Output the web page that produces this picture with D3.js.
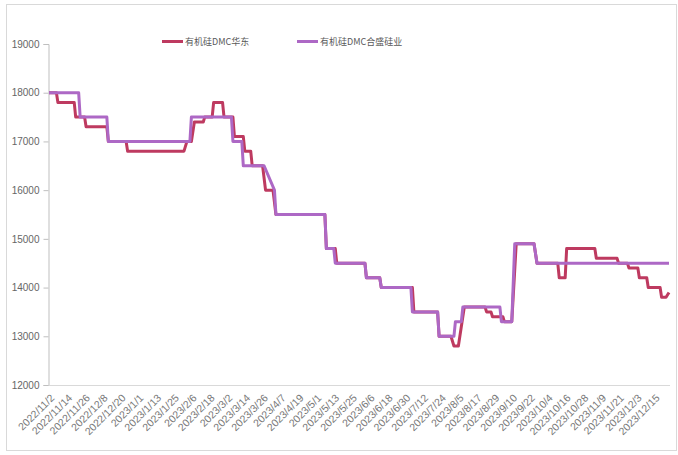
<!DOCTYPE html>
<html><head><meta charset="utf-8">
<script src="https://cdn.jsdelivr.net/npm/d3@7/dist/d3.min.js"></script>
<style>body{margin:0;background:#fff}svg{display:block}</style>
</head><body><svg id="c" width="678" height="455"></svg>
<script>
const seriesNames = ["有机硅DMC华东", "有机硅DMC合盛硅业"];
const yTicks = [12000, 13000, 14000, 15000, 16000, 17000, 18000, 19000];
const xTickLabels = ["2022/11/2","2022/11/14","2022/11/26","2022/12/8","2022/12/20","2023/1/1","2023/1/13","2023/1/25","2023/2/6","2023/2/18","2023/3/2","2023/3/14","2023/3/26","2023/4/7","2023/4/19","2023/5/1","2023/5/13","2023/5/25","2023/6/6","2023/6/18","2023/6/30","2023/7/12","2023/7/24","2023/8/5","2023/8/17","2023/8/29","2023/9/10","2023/9/22","2023/10/4","2023/10/16","2023/10/28","2023/11/9","2023/11/21","2023/12/3","2023/12/15"];
const dateRange = ["2022-11-02", "2023-12-25"];
// 有机硅DMC华东 (date, price)
const huadong = [
["2022-11-02",18000],["2022-11-07",18000],["2022-11-08",17800],["2022-11-19",17800],["2022-11-20",17500],
["2022-11-26",17500],["2022-11-27",17300],["2022-12-11",17300],["2022-12-12",17000],["2022-12-24",17000],
["2022-12-25",16800],["2023-02-01",16800],["2023-02-03",17000],["2023-02-06",17000],["2023-02-08",17400],
["2023-02-14",17400],["2023-02-15",17500],["2023-02-20",17500],["2023-02-21",17800],["2023-02-27",17800],
["2023-02-28",17500],["2023-03-06",17500],["2023-03-07",17100],["2023-03-13",17100],["2023-03-14",16800],
["2023-03-18",16800],["2023-03-19",16500],["2023-03-26",16500],["2023-03-28",16000],["2023-04-02",16000],
["2023-04-04",15500],["2023-05-07",15500],["2023-05-08",14800],["2023-05-14",14800],["2023-05-15",14500],
["2023-06-03",14500],["2023-06-04",14200],["2023-06-13",14200],["2023-06-14",14000],["2023-07-05",14000],
["2023-07-06",13500],["2023-07-22",13500],["2023-07-23",13000],["2023-07-31",13000],["2023-08-02",12800],
["2023-08-05",12800],["2023-08-09",13600],["2023-08-23",13600],["2023-08-24",13500],["2023-08-27",13500],
["2023-08-28",13400],["2023-09-04",13400],["2023-09-05",13300],["2023-09-10",13300],["2023-09-13",14900],
["2023-09-25",14900],["2023-09-27",14500],["2023-10-11",14500],["2023-10-12",14200],["2023-10-16",14200],
["2023-10-17",14800],["2023-11-05",14800],["2023-11-06",14600],["2023-11-20",14600],["2023-11-21",14500],
["2023-11-27",14500],["2023-11-28",14400],["2023-12-04",14400],["2023-12-05",14200],["2023-12-10",14200],
["2023-12-11",14000],["2023-12-19",14000],["2023-12-20",13800],["2023-12-23",13800],["2023-12-25",13900]
];
// 有机硅DMC合盛硅业 (date, price)
const hesheng = [
["2022-11-02",18000],["2022-11-22",18000],["2022-11-23",17500],["2022-12-11",17500],["2022-12-12",17000],
["2023-02-05",17000],["2023-02-06",17500],["2023-03-05",17500],["2023-03-06",17000],["2023-03-12",17000],
["2023-03-13",16500],["2023-03-27",16500],["2023-04-03",16000],["2023-04-04",15500],["2023-05-07",15500],
["2023-05-08",14800],["2023-05-13",14800],["2023-05-14",14500],["2023-06-03",14500],["2023-06-04",14200],
["2023-06-13",14200],["2023-06-14",14000],["2023-07-04",14000],["2023-07-05",13500],["2023-07-22",13500],
["2023-07-23",13000],["2023-08-02",13000],["2023-08-03",13300],["2023-08-07",13300],["2023-08-08",13600],
["2023-09-02",13600],["2023-09-03",13300],["2023-09-10",13300],["2023-09-12",14900],["2023-09-25",14900],
["2023-09-27",14500],["2023-12-25",14500]
];
const colors = ["#BE3A60", "#AD68C5"];

const parse = d3.timeParse("%Y-%m-%d");
const parseTick = d3.timeParse("%Y/%m/%d");
const svg = d3.select("#c");
const font = "'Liberation Sans', Arial, sans-serif";

svg.append("rect").attr("x",6.5).attr("y",4.5).attr("width",670).attr("height",446)
  .attr("fill","none").attr("stroke","#d9d9d9");

const x = d3.scaleTime().domain(dateRange.map(parse)).range([49, 669]);
const y = d3.scaleLinear().domain([12000, 19000]).range([385, 44]);

// y axis
const yAxis = svg.append("g").attr("transform","translate(48.5,0)")
  .call(d3.axisLeft(y).tickValues(yTicks).tickSize(5).tickPadding(4).tickFormat(d3.format("d")));
yAxis.select(".domain").attr("stroke","#bfbfbf");
yAxis.selectAll(".tick line").attr("stroke","#bfbfbf");
yAxis.selectAll("text").attr("fill","#666").style("font-family",font).style("font-size","10px");

// x axis
const xAxis = svg.append("g").attr("transform","translate(0,385.5)")
  .call(d3.axisBottom(x).tickValues(xTickLabels.map(parseTick)).tickSize(0).tickFormat((d,i)=>xTickLabels[i]));
xAxis.select(".domain").attr("stroke","#d9d9d9").attr("d","M48.5,0H670");
xAxis.selectAll(".tick text")
  .attr("fill","#777").style("font-family",font).style("font-size","10.5px")
  .attr("text-anchor","end").attr("dy","0.35em")
  .attr("transform","translate(3,10.5) rotate(-45)").attr("y",0).attr("x",0);

// lines
const line = d3.line().x(d=>x(parse(d[0]))).y(d=>y(d[1]));
[huadong, hesheng].forEach((s,i)=>{
  svg.append("path").datum(s).attr("d",line).attr("fill","none")
    .attr("stroke",colors[i]).attr("stroke-width",3).attr("stroke-linejoin","round");
});

// legend
const legX = [162, 297];
seriesNames.forEach((n,i)=>{
  svg.append("line").attr("x1",legX[i]).attr("x2",legX[i]+21).attr("y1",41.5).attr("y2",41.5)
    .attr("stroke",colors[i]).attr("stroke-width",3);
  svg.append("text").attr("x",legX[i]+23).attr("y",45).text(n)
    .attr("fill","#595959").style("font-family","'Noto Sans CJK SC', sans-serif").style("font-size","9px");
});
</script></body></html>
